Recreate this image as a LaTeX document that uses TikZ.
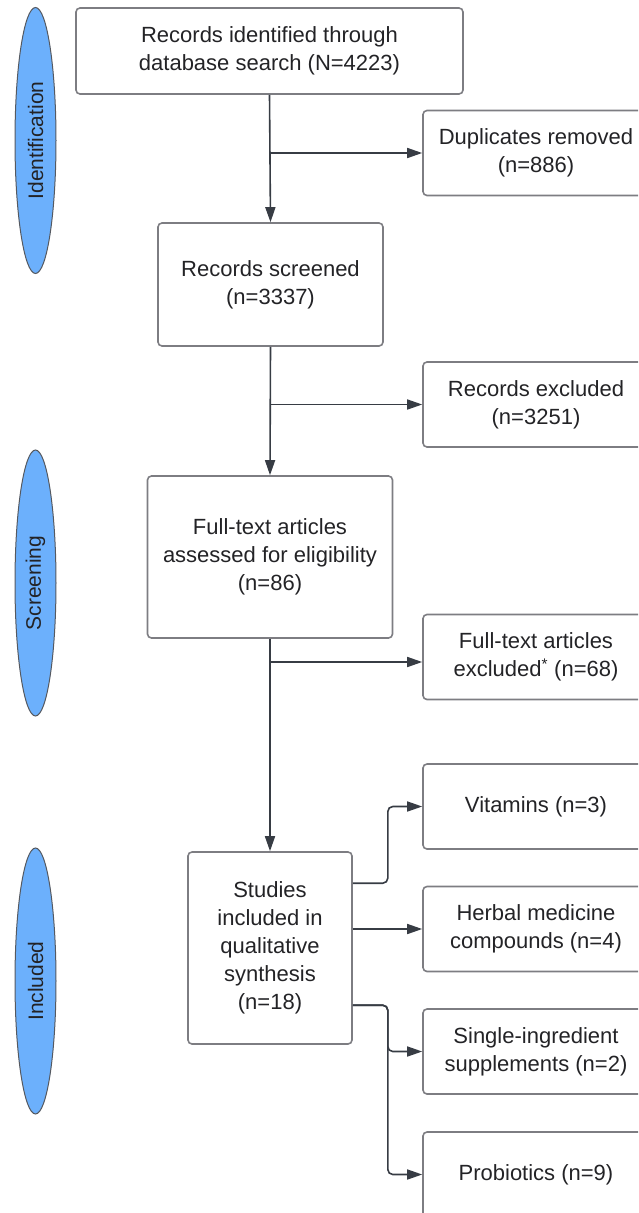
\documentclass[tikz,border=0pt]{standalone}
\usepackage{fontspec}
\setmainfont{Liberation Sans}
\usepackage{xcolor}
\usepackage{tikz}
\usetikzlibrary{shapes.geometric, arrows.meta}
\definecolor{boxline}{RGB}{125,125,130}
\definecolor{arrowline}{RGB}{55,60,68}
\definecolor{phaseblue}{RGB}{108,176,252}
\definecolor{txtgray}{RGB}{35,35,38}
\tikzstyle{box} = [rectangle, rounded corners=4pt, 
draw=boxline, 
line width=1.6pt, 
text=txtgray, 
align=center, 
inner sep=0pt, 
font=\fontsize{22}{28}\selectfont]
\tikzstyle{sidebox} = [box, 
minimum width=226pt, 
minimum height=85pt]
\tikzstyle{phase} = [ellipse, 
draw=arrowline!85, 
line width=1pt, 
fill=phaseblue, 
minimum width=41pt, 
minimum height=266pt, 
inner sep=0pt, 
text=txtgray, 
font=\fontsize{21}{24}\selectfont]
\tikzstyle{arrow} = [draw=arrowline, line width=1.6pt, -{Triangle[length=15pt,width=10pt]}]

\begin{document}
\begin{tikzpicture}[x=1pt, y=-1pt]

\useasboundingbox (0,0) rectangle (638,1213);
\clip (0,0) rectangle (638,1213);

% phases on the left
\node (ident) [phase] at (35.5,140.5) {\rotatebox{90}{Identification}};
\node (scrn) [phase] at (35.5,583) {\rotatebox{90}{Screening}};
\node (incl) [phase] at (35.5,981) {\rotatebox{90}{Included}};

% main column
\node (rec) [box, minimum width=387pt, minimum height=86pt] at (269.5,51) {Records identified through\\database search (N=4223)};
\node (scr) [box, minimum width=225pt, minimum height=123pt] at (270.5,284.5) {Records screened\\(n=3337)};
\node (full) [box, minimum width=245pt, minimum height=162pt] at (270,557) {Full-text articles\\assessed for eligibility\\(n=86)};
\node (stud) [box, minimum width=164pt, minimum height=192pt] at (270,948) {Studies\\included in\\qualitative\\synthesis\\(n=18)};

% side boxes
\node (dup) [sidebox] at (536,153) {Duplicates removed\\(n=886)};
\node (excl) [sidebox] at (536,404.5) {Records excluded\\(n=3251)};
\node (ftex) [sidebox] at (536,657) {Full-text articles\\excluded\textsuperscript{*} (n=68)};
\node (vit) [sidebox] at (536,806.5) {Vitamins (n=3)};
\node (herb) [sidebox] at (536,929) {Herbal medicine\\compounds (n=4)};
\node (sing) [sidebox] at (536,1051.5) {Single-ingredient\\supplements (n=2)};
\node (prob) [sidebox] at (536,1174.5) {Probiotics (n=9)};

\coordinate (ftexin) at ([yshift=-5pt]ftex.west);
\coordinate (s1) at ([yshift=-32pt]stud.north east);
\coordinate (s3) at ([yshift=-154pt]stud.north east);

\draw [arrow] (rec.south) -- (scr.north);
\draw [arrow] (rec.south |- dup.west) -- (dup.west);
\draw [arrow] (scr.south) -- (full.north);
\draw [arrow] (scr.south |- excl.west) -- (excl.west);
\draw [arrow] (full.south) -- (stud.north);
\draw [arrow] (full.south |- ftexin) -- (ftexin);

\draw [arrow, rounded corners=5pt] (s1) -- ++(35,0) |- (vit.west);
\draw [arrow] (stud.east |- herb.west) -- (herb.west);
\draw [arrow, rounded corners=5pt] (s3) -- ++(35,0) |- (sing.west);
\draw [arrow, rounded corners=5pt] (s3) -- ++(35,0) |- (prob.west);

\end{tikzpicture}
\end{document}
